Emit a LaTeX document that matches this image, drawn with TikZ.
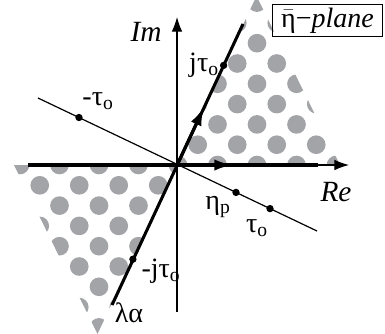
\documentclass[tikz,border=0pt]{standalone}
\usepackage{fontspec}
\setmainfont{Liberation Serif}
\usetikzlibrary{arrows.meta,positioning,calc}
\definecolor{DotGray}{RGB}{163,164,168}
\newcommand{\lowidx}[1]{\textsubscript{#1}}
\tikzset{
  axisln/.style={line width=0.9pt,-{Latex[length=11pt,width=8pt]}},
  thinln/.style={line width=0.9pt},
  boldln/.style={line width=2.3pt},
  midarr/.style={line width=2.3pt,-{Latex[length=14pt,width=8.5pt]}},
  pnt/.style={circle,fill=black,inner sep=0pt,minimum size=5.5pt},
  lbl/.style={font=\fontsize{21}{24}\selectfont,inner sep=0pt},
  axlbl/.style={font=\fontsize{22}{25}\selectfont\itshape,inner sep=0pt}
}

\begin{document}
\begin{tikzpicture}[x=0.75pt,y=-0.75pt]
  \useasboundingbox (0,0) rectangle (385,333);
  \coordinate (o) at (177,165);
  % dotted sectors
  \begin{scope}
    \clip (o) -- (256.5,-4) -- (340,165) -- cycle
          (o) -- (97.5,334) -- (14,165) -- cycle;
    \foreach \j in {-9,...,9}
      \foreach \k in {-10,...,10}
        \fill[DotGray] (178+39.5*\k+19.75*\j,165+20.3*\j) circle (7pt);
  \end{scope}
  % axes
  \coordinate (reL) at (28,165);
  \coordinate (reR) at (349,165);
  \coordinate (reM) at (318,165);
  \coordinate (imB) at (177,312);
  \coordinate (imT) at (177,17);
  \draw[axisln] (imB) -- (imT);
  \draw[axisln] (reL) -- (reR);
  \draw[boldln] (reL) -- (reM);
  \draw[midarr] (o) -- (233,165);
  % tau line and rotated line
  \coordinate (tauL) at (38,98);
  \coordinate (tauR) at (317,231);
  \coordinate (lam) at (112,305);
  \coordinate (jtop) at (243,24);
  \draw[thinln] (tauL) -- (tauR);
  \draw[boldln] (lam) -- (jtop);
  \draw[midarr] (o) -- (204.1,107);
  % points
  \node[pnt] (jt) at (223.6,65.4) {};
  \node[pnt] (mjt) at (132.9,259.2) {};
  \node[pnt] (mt) at (79,117.5) {};
  \node[pnt] (etap) at (236,192.4) {};
  \node[pnt] (tau) at (270,208.6) {};
  % labels
  \node[axlbl] (im) at (146,32) {Im};
  \node[axlbl] (re) at (336,192) {Re};
  \node[lbl,left=0.5pt of jt] (jtl) {jτ\lowidx{o}};
  \node[lbl] (mjtl) at (161,271) {-jτ\lowidx{o}};
  \node[lbl] (mtl) at (98,101) {-τ\lowidx{o}};
  \node[lbl] (etal) at (218,207) {η\lowidx{p}};
  \node[lbl] (taul) at (257,228) {τ\lowidx{o}};
  \node[lbl] (laml) at (129,313) {λα};
  \node[draw,line width=0.8pt,minimum width=82.5pt,minimum height=24pt,
        inner sep=1pt,anchor=north east,font=\fontsize{21}{23}\selectfont]
        (plane) at (383,4) {$\bar{\mbox{η}}$−\textit{plane}};
\end{tikzpicture}
\end{document}
